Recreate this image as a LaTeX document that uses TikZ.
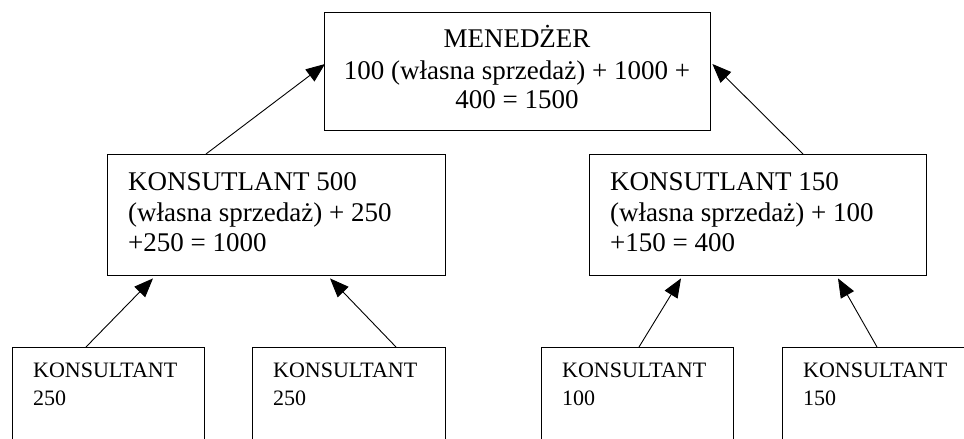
\documentclass[tikz,border=0pt]{standalone}
\usepackage{fontspec}
\setmainfont{Liberation Serif}
\usetikzlibrary{arrows.meta,calc}
\tikzset{
  boxnode/.style={draw=black, line width=1.4pt, rectangle, inner sep=0pt, anchor=north west},
  bigtxt/.style={font=\fontsize{27}{31}\selectfont, inner sep=0pt},
  smalltxt/.style={font=\fontsize{22}{28}\selectfont, inner sep=0pt, anchor=base west},
  conn/.style={draw=black, line width=0.9pt, -{Triangle[length=19pt,width=15pt]}}
}
\begin{document}
\begin{tikzpicture}[x=1pt,y=-1pt]
\useasboundingbox (0,0) rectangle (964,439);
\clip (0,0) rectangle (964,439);
\fill[white] (0,0) rectangle (964,439);
% boxes
\node[boxnode, minimum width=386pt, minimum height=118pt] (top) at (324,12) {};
\node[boxnode, minimum width=338pt, minimum height=121pt] (ml) at (107,154) {};
\node[boxnode, minimum width=337pt, minimum height=121pt] (mr) at (589,154) {};
\node[boxnode, minimum width=192pt, minimum height=120pt] (b1) at (12,347) {};
\node[boxnode, minimum width=193pt, minimum height=120pt] (b2) at (252,347) {};
\node[boxnode, minimum width=192pt, minimum height=120pt] (b3) at (541,347) {};
\node[boxnode, minimum width=192pt, minimum height=120pt] (b4) at (782,347) {};
% top text
\node[bigtxt, anchor=base] (t1) at (517,47) {MENEDŻER};
\node[bigtxt, anchor=base] (t2) at (517,79) {100 (własna sprzedaż) + 1000 +};
\node[bigtxt, anchor=base] (t3) at (517,108) {400 = 1500};
% mid-left text
\node[bigtxt, anchor=base west] (l1) at (128,190) {KONSUTLANT 500};
\node[bigtxt, anchor=base west] (l2) at (128,221) {(własna sprzedaż) + 250};
\node[bigtxt, anchor=base west] (l3) at (128,251) {+250 = 1000};
% mid-right text
\node[bigtxt, anchor=base west] (r1) at (610,190) {KONSUTLANT 150};
\node[bigtxt, anchor=base west] (r2) at (610,221) {(własna sprzedaż) + 100};
\node[bigtxt, anchor=base west] (r3) at (610,251) {+150 = 400};
% bottom text
\node[smalltxt] (a1) at (33,377) {KONSULTANT};
\node[smalltxt] (a2) at (33,405) {250};
\node[smalltxt] (c1) at (273,377) {KONSULTANT};
\node[smalltxt] (c2) at (273,405) {250};
\node[smalltxt] (d1) at (562,377) {KONSULTANT};
\node[smalltxt] (d2) at (562,405) {100};
\node[smalltxt] (e1) at (803,377) {KONSULTANT};
\node[smalltxt] (e2) at (803,405) {150};
% connectors
\draw[conn] ($(ml.north west)+(99,0)$) -- ($(top.north west)+(1,52)$);
\draw[conn] ($(mr.north west)+(214,0)$) -- ($(top.north east)+(1,52)$);
\draw[conn] ($(b1.north west)+(74,0)$) -- ($(ml.south west)+(46,2)$);
\draw[conn] ($(b2.north west)+(144,0)$) -- ($(ml.south west)+(223,2)$);
\draw[conn] ($(b3.north west)+(98,0)$) -- ($(mr.south west)+(92,2)$);
\draw[conn] ($(b4.north west)+(95,0)$) -- ($(mr.south west)+(249,2)$);
\end{tikzpicture}
\end{document}
